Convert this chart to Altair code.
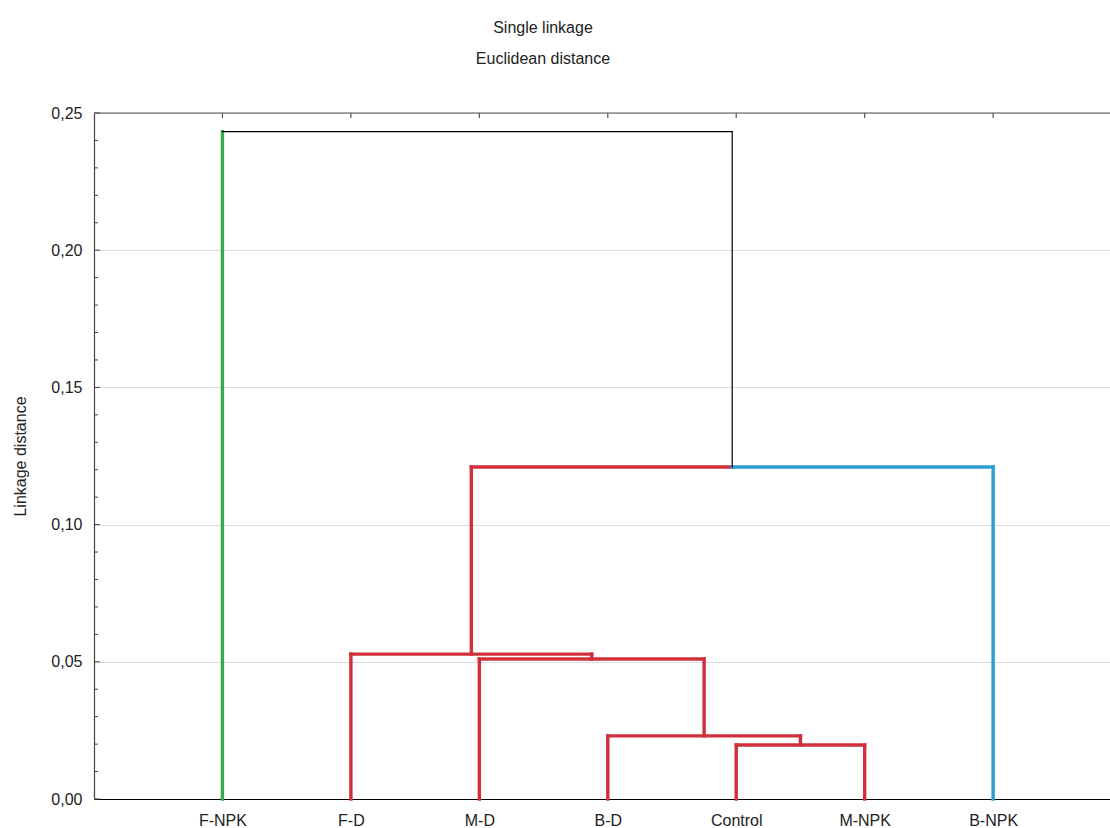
import json
import altair as alt
import pandas as pd

# Leaves in dendrogram order and their branch colours
leaves = ["F-NPK", "F-D", "M-D", "B-D", "Control", "M-NPK", "B-NPK"]
leaf_colors = ["#35ab52", "#d1303a", "#d1303a", "#d1303a", "#d1303a", "#d1303a", "#2a9fd4"]

# Merge steps: (left node, right node); leaves are 0..6, merged clusters 7, 8, ...
merges = [(4, 5), (3, 7), (2, 8), (1, 9), (10, 6), (0, 11)]
merge_heights = [0.0197, 0.0230, 0.0510, 0.0528, 0.1210, 0.2432]
# Link colour of each merge; "split" colours each half by its child
merge_colors = ["#d1303a", "#d1303a", "#d1303a", "#d1303a", "split", "#000000"]

y_ticks = [0.0, 0.05, 0.10, 0.15, 0.20, 0.25]
minor_ticks = [i / 100 for i in range(26) if i % 5 != 0]

# Build the dendrogram's line segments from the linkage table
node_x = {i: float(i + 1) for i in range(len(leaves))}
node_h = {i: 0.0 for i in range(len(leaves))}
node_c = {i: c for i, c in enumerate(leaf_colors)}
segs = []
for k, ((a, b), h, c) in enumerate(zip(merges, merge_heights, merge_colors)):
    nid = len(leaves) + k
    xa, xb = node_x[a], node_x[b]
    xm = (xa + xb) / 2
    segs.append(dict(x=xa, x2=xa, y=node_h[a], y2=h, c=node_c[a]))
    segs.append(dict(x=xb, x2=xb, y=node_h[b], y2=h, c=node_c[b]))
    if c == "split":
        segs.append(dict(x=xa, x2=xm, y=h, y2=h, c=node_c[a]))
        segs.append(dict(x=xm, x2=xb, y=h, y2=h, c=node_c[b]))
        node_c[nid] = "#000000"
    else:
        segs.append(dict(x=xa, x2=xb, y=h, y2=h, c=c))
        node_c[nid] = c
    node_x[nid] = xm
    node_h[nid] = h
seg_df = pd.DataFrame(segs)
seg_df["w"] = seg_df["c"].map(lambda c: 1.2 if c == "#000000" else 3.4)

W, H = 1016, 686
FONT = "Liberation Sans"
TXT = "#222222"

x_scale = alt.Scale(domain=[0, 7.91], nice=False, zero=False)
y_scale = alt.Scale(domain=[0, 0.25], nice=False)

label_expr = "replace(format(datum.value, '.2f'), '.', ',')"
names_js = json.dumps(leaves)

dendro = alt.Chart(seg_df).mark_rule(strokeCap="square").encode(
    x=alt.X("x:Q", scale=x_scale,
            axis=alt.Axis(values=list(range(1, len(leaves) + 1)),
                          labelExpr=f"{names_js}[datum.value - 1]",
                          ticks=False, grid=False, title=None,
                          domainColor="#000000", domainWidth=1.2,
                          labelFont=FONT, labelFontSize=16, labelColor=TXT,
                          labelPadding=13)),
    x2="x2:Q",
    y=alt.Y("y:Q", scale=y_scale,
            axis=alt.Axis(values=y_ticks, labelExpr=label_expr,
                          ticks=False, grid=True, gridColor="#dcdcdc",
                          domainColor="#444444", domainWidth=1.2,
                          title="Linkage distance", titleFont=FONT,
                          titleFontSize=16, titleFontWeight="normal",
                          titleColor=TXT, titlePadding=22,
                          labelFont=FONT, labelFontSize=16, labelColor=TXT,
                          labelPadding=12)),
    y2="y2:Q",
    color=alt.Color("c:N", scale=None),
    strokeWidth=alt.StrokeWidth("w:Q", scale=None),
)

# Inward-pointing ticks on the value axis (major and minor)
major_ticks = alt.Chart(pd.DataFrame({"v": y_ticks})).mark_rule(
    color="#444444", strokeWidth=1
).encode(y=alt.Y("v:Q", scale=y_scale), x=alt.value(0), x2=alt.value(6))

minor = alt.Chart(pd.DataFrame({"v": minor_ticks})).mark_rule(
    color="#444444", strokeWidth=1
).encode(y=alt.Y("v:Q", scale=y_scale), x=alt.value(0), x2=alt.value(4))

# Top frame line with ticks at each leaf position
top_line = alt.Chart(pd.DataFrame({"v": [0.25]})).mark_rule(
    color="#555555", strokeWidth=1.2
).encode(y=alt.Y("v:Q", scale=y_scale), x=alt.value(0), x2=alt.value(W))

leaf_df = pd.DataFrame({"pos": [float(i + 1) for i in range(len(leaves))]})
top_ticks = alt.Chart(leaf_df).mark_rule(color="#555555", strokeWidth=1.2).encode(
    x=alt.X("pos:Q", scale=x_scale),
    y=alt.value(0),
    y2=alt.value(5),
)

chart = alt.layer(dendro, major_ticks, minor, top_line, top_ticks).properties(
    width=W,
    height=H,
    title=alt.TitleParams(
        text=["Single linkage", "Euclidean distance"],
        font=FONT, fontSize=16, fontWeight="normal", color=TXT,
        lineHeight=31, anchor="middle", dx=-59, frame="group",
        baseline="bottom", offset=22,
    ),
    autosize=alt.AutoSizeParams(type="none"),
    padding={"left": 94, "top": 113, "right": 0, "bottom": 29},
).configure_view(stroke=None).configure(background="white")

chart.save("out.html", embed_options={"renderer": "svg", "actions": False})
